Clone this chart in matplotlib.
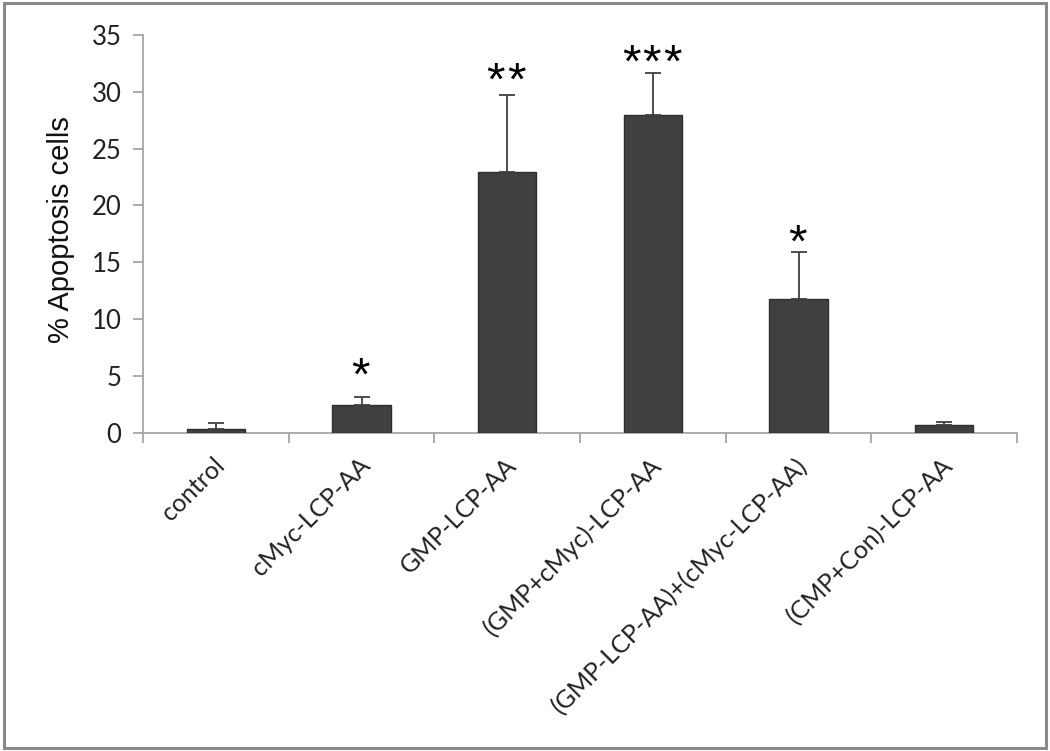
import matplotlib
matplotlib.use("Agg")
import matplotlib.pyplot as plt
from matplotlib.patches import Rectangle
import matplotlib.transforms as mtransforms
import numpy as np

categories = ["control", "cMyc-LCP-AA", "GMP-LCP-AA", "(GMP+cMyc)-LCP-AA",
              "(GMP-LCP-AA)+(cMyc-LCP-AA)", "(CMP+Con)-LCP-AA"]
values = [0.3, 2.44, 22.96, 28.0, 11.76, 0.68]
errors = [0.53, 0.66, 6.74, 3.66, 4.14, 0.29]
stars = ["", "*", "**", "***", "*", ""]
star_y = [0, 5.7, 31.7, 33.25, 17.4, 0]
yticks = [0, 5, 10, 15, 20, 25, 30, 35]

W, H = 1050, 751
fig = plt.figure(figsize=(W / 100, H / 100), dpi=100)
fig.patch.set_facecolor("white")

ax = fig.add_axes([143 / W, 1 - 432.7 / H, (1017 - 143) / W, (432.7 - 35) / H])
x = np.arange(len(categories))
axis_col = "#a6a6a6"
ax.bar(x, values, width=0.4, color="#404040", edgecolor="#2e2e2e", linewidth=1.0, zorder=3)
ax.errorbar(x, values, yerr=[np.zeros(len(values)), errors], fmt="none",
            ecolor="#404040", elinewidth=1.3, capsize=6, capthick=1.3, zorder=4)

pitch_px = 20.5
for xi, s, sy in zip(x, stars, star_y):
    n = len(s)
    for k in range(n):
        dx = (k - (n - 1) / 2) * pitch_px - 1
        off = mtransforms.ScaledTranslation(dx / 100, -10 / 100, fig.dpi_scale_trans)
        ax.text(xi, sy, "*", ha="center", va="center", fontsize=34,
                family="Liberation Sans", color="black",
                transform=ax.transData + off)

ax.set_xlim(-0.5, len(categories) - 0.5)
ax.set_ylim(0, 35)
ax.set_yticks(yticks)
ax.set_yticklabels([str(v) for v in yticks], family="Lato", fontsize=18.5, color="#222222")
ax.tick_params(axis="y", direction="out", length=7.5, width=1.3, color=axis_col, pad=8)

ax.set_xticks(np.arange(len(categories) + 1) - 0.5)
ax.set_xticklabels([])
ax.tick_params(axis="x", which="major", direction="out", length=7.5, width=1.3, color=axis_col)
ax.set_xticks(x, minor=True)
ax.set_xticklabels(categories, minor=True, rotation=45, ha="right", va="top",
                   rotation_mode="anchor", family="Lato", fontsize=18, color="#222222")
ax.tick_params(axis="x", which="minor", length=0, pad=15)
shift = mtransforms.ScaledTranslation(-3 / 100, 0, fig.dpi_scale_trans)
for lbl in ax.get_xticklabels(minor=True):
    lbl.set_transform(lbl.get_transform() + shift)

for side in ["top", "right"]:
    ax.spines[side].set_visible(False)
for side in ["left", "bottom"]:
    ax.spines[side].set_color(axis_col)
    ax.spines[side].set_linewidth(1.3)

fig.text(61 / W, 1 - 230 / H, "% Apoptosis cells", rotation=90, ha="center", va="center",
         family="Liberation Sans", fontsize=21, color="#111111")

fig.patches.append(Rectangle((4 / W, 3 / H), (1046 - 4) / W, (748 - 3) / H,
                             transform=fig.transFigure, fill=False,
                             edgecolor="#8a8a8a", linewidth=2.2))

fig.savefig("out.png", dpi=100, facecolor="white")
